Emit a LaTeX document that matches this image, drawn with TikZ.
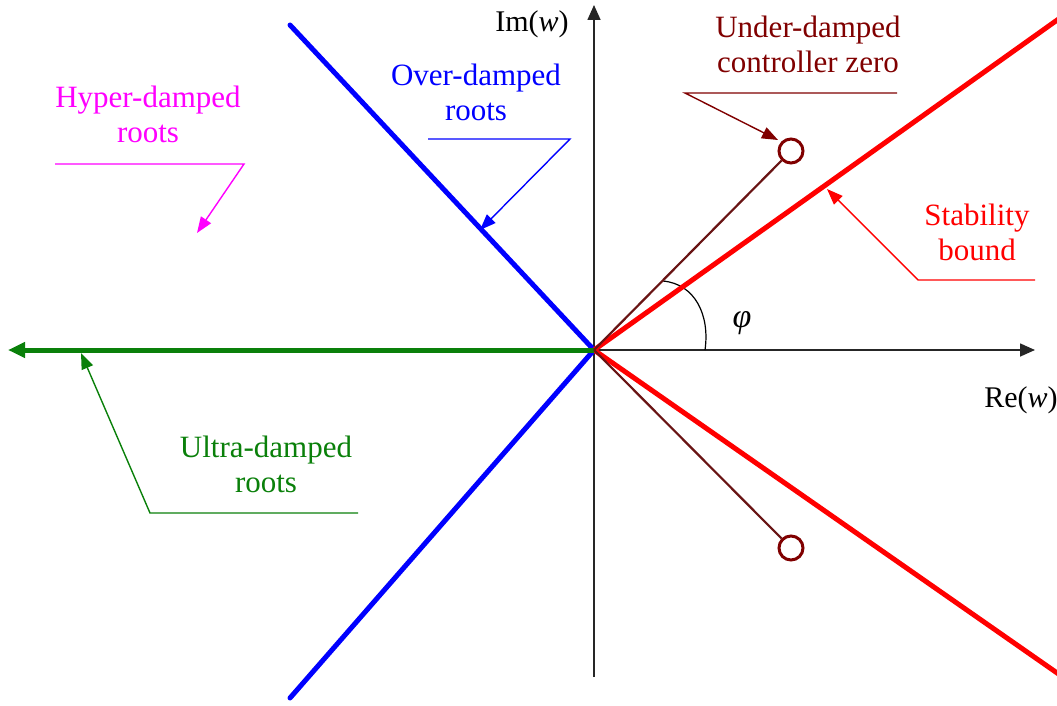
\documentclass[tikz,border=0pt]{standalone}
\usepackage{fontspec}
\setmainfont{Liberation Serif}
\usetikzlibrary{arrows.meta}
\definecolor{maroonc}{RGB}{128,0,0}
\definecolor{maroonl}{RGB}{105,20,20}
\definecolor{greenc}{RGB}{10,128,10}
\definecolor{magc}{RGB}{255,0,255}
\tikzset{
  lbl/.style={align=center,font=\fontsize{31}{35}\selectfont,inner sep=0pt},
  axislbl/.style={font=\fontsize{30}{34}\selectfont,inner sep=0pt,anchor=base},
  axis/.style={line width=1.6pt,black!85,-{Triangle[length=15pt,width=13pt]}},
  leader/.style={line width=1.4pt},
  ptr/.style={leader,-{Triangle[length=16pt,width=12pt]}},
  thickline/.style={line width=5pt},
  zero/.style={circle,draw=maroonc,line width=3pt,minimum size=24pt,inner sep=0pt},
}
\begin{document}
\begin{tikzpicture}[x=1pt,y=-1pt]
\useasboundingbox (0,0) rectangle (1057,706);
\coordinate (O) at (594,350);
% axes
\coordinate (ybot) at (594,677);
\coordinate (ytop) at (594,5);
\coordinate (xtip) at (1035,350);
\draw[axis] (ybot) -- (ytop);
\draw[axis] (O) -- (xtip);
% angle arc
\coordinate (arcA) at (663,281);
\coordinate (arcB) at (705,350);
\draw[line width=1.2pt] (arcA) .. controls (695,284) and (710,315) .. (arcB);
\node[font=\fontsize{34}{38}\selectfont,inner sep=0pt] (phi) at (742,323) {\textit{φ}};
% blue over-damped lines
\coordinate (btop) at (290,25);
\coordinate (bbot) at (290,698);
\draw[thickline,blue,line cap=round] (btop) -- (O) -- (bbot);
% red stability bounds
\coordinate (rtop) at (1060,18);
\coordinate (rbot) at (1060,675);
\draw[thickline,red] (rtop) -- (O) -- (rbot);
% green ultra-damped
\coordinate (gtip) at (8,350);
\draw[thickline,greenc,-{Triangle[length=17pt,width=15pt]}] (O) -- (gtip);
% controller zeros
\node[zero] (z1) at (791,151) {};
\node[zero] (z2) at (791,548) {};
\draw[line width=2.2pt,maroonl] (O) -- (z1);
\draw[line width=2.2pt,maroonl] (O) -- (z2);
% labels
\node[axislbl] (im) at (532,32) {Im(\textit{w})};
\node[axislbl] (re) at (1021,407) {Re(\textit{w})};
\node[lbl,text=magc] (hyp) at (148,114) {Hyper-damped\\roots};
\node[lbl,text=blue] (over) at (476,92) {Over-damped\\roots};
\node[lbl,text=maroonc] (under) at (808,44) {Under-damped\\controller zero};
\node[lbl,text=red] (stab) at (977,232) {Stability\\bound};
\node[lbl,text=greenc] (ultra) at (266,464) {Ultra-damped\\roots};
% leaders
\coordinate (hypL) at (55,164);
\coordinate (hypR) at (244,164);
\coordinate (hypT) at (197,233);
\draw[ptr,magc] (hypL) -- (hypR) -- (hypT);
\coordinate (ovL) at (428,139);
\coordinate (ovR) at (570,139);
\coordinate (ovT) at (480,230);
\draw[ptr,blue] (ovL) -- (ovR) -- (ovT);
\coordinate (unR) at (897,93);
\coordinate (unL) at (685,93);
\coordinate (unT) at (778,140);
\draw[ptr,maroonc] (unR) -- (unL) -- (unT);
\coordinate (stR) at (1035,280);
\coordinate (stL) at (918,280);
\coordinate (stT) at (827,189);
\draw[ptr,red] (stR) -- (stL) -- (stT);
\coordinate (ulR) at (358,513);
\coordinate (ulL) at (150,513);
\coordinate (ulT) at (81,353);
\draw[ptr,greenc] (ulR) -- (ulL) -- (ulT);
\end{tikzpicture}
\end{document}
